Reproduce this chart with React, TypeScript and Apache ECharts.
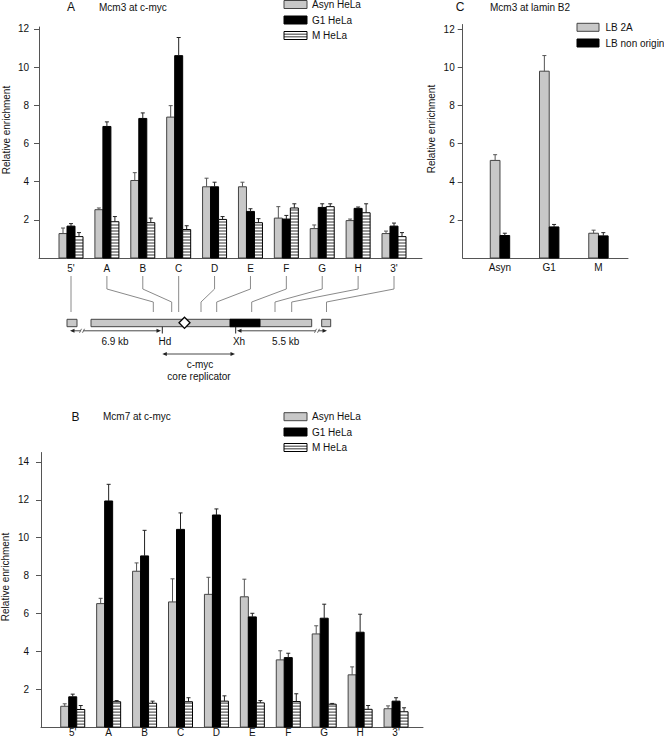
import React, { useEffect, useRef } from 'react';
import * as echarts from 'echarts';

// ---------- data ----------
const cats = ["5'", 'A', 'B', 'C', 'D', 'E', 'F', 'G', 'H', "3'"];
const helaNames = ['Asyn HeLa', 'G1 HeLa', 'M HeLa'];

// Panel A: Mcm3 at c-myc
const aAsyn = [1.28, 2.53, 4.06, 7.38, 3.73, 3.73, 2.09, 1.54, 1.96, 1.28];
const aAsynErr = [0.29, 0.09, 0.41, 0.6, 0.45, 0.24, 0.6, 0.19, 0.08, 0.13];
const aG1 = [1.67, 6.89, 7.31, 10.6, 3.73, 2.44, 2.04, 2.65, 2.6, 1.67];
const aG1Err = [0.13, 0.24, 0.29, 0.95, 0.24, 0.14, 0.19, 0.19, 0.07, 0.16];
const aM = [1.12, 1.9, 1.85, 1.49, 2.02, 1.85, 2.62, 2.69, 2.37, 1.12];
const aMErr = [0.21, 0.27, 0.24, 0.2, 0.15, 0.21, 0.22, 0.15, 0.47, 0.21];

// Panel B: Mcm7 at c-myc
const bAsyn = [1.1, 6.52, 8.23, 6.61, 7.01, 6.88, 3.55, 4.92, 2.76, 0.97];
const bAsynErr = [0.13, 0.28, 0.44, 1.22, 0.9, 0.93, 0.48, 0.43, 0.42, 0.15];
const bG1 = [1.6, 11.94, 9.04, 10.44, 11.2, 5.82, 3.67, 5.75, 5.01, 1.37];
const bG1Err = [0.14, 0.88, 1.35, 0.87, 0.32, 0.19, 0.23, 0.74, 0.95, 0.18];
const bM = [0.93, 1.34, 1.26, 1.34, 1.37, 1.28, 1.35, 1.21, 0.94, 0.81];
const bMErr = [0.21, 0.06, 0.11, 0.21, 0.28, 0.12, 0.41, 0.04, 0.2, 0.21];

// Panel C: Mcm3 at lamin B2
const cCats = ['Asyn', 'G1', 'M'];
const cNames = ['LB 2A', 'LB non origin'];
const cLB2A = [5.12, 9.8, 1.3];
const cLB2AErr = [0.3, 0.82, 0.16];
const cNon = [1.18, 1.63, 1.16];
const cNonErr = [0.12, 0.13, 0.17];

const ticksA = [2, 4, 6, 8, 10, 12];
const ticksB = [2, 4, 6, 8, 10, 12, 14];
const ticksC = [2, 4, 6, 8, 10, 12];

// ---------- layout / style ----------
const FONT = '"Liberation Sans", Arial, Helvetica, sans-serif';
const TXT = '#111';
const AXIS = '#555';
const GRAY = '#c8c8c8';

const gA = { left: 39, top: 27, width: 383, height: 231, xmin: -0.892, xmax: 9.78, ymax: 12.1 };
const gB = { left: 41, top: 452.5, width: 382, height: 274.6, xmin: -0.883, xmax: 9.75, ymax: 14.5 };
const gC = { left: 462.7, top: 24.5, width: 165.3, height: 233.5, xmin: -0.757, xmax: 2.6, ymax: 12.25 };

// schematic positions of each primer pair on the c-myc map (layout)
const mapX = [71, 153.3, 171.7, null, 201, 216.7, 251.7, 275, 291.7, 326.5];

type Kind = 'gray' | 'black' | 'stripe';

function barRenderer(offset: number, width: number, kind: Kind) {
  return (params: any, api: any) => {
    const i = api.value(0);
    const v = api.value(1);
    const e = api.value(2);
    const base = api.coord([i, 0]);
    const top = api.coord([i, v]);
    const et = api.coord([i, v + e]);
    const cx = base[0] + offset;
    const x0 = cx - width / 2;
    const h = base[1] - top[1];
    const fill = kind === 'gray' ? GRAY : kind === 'black' ? '#000' : '#fff';
    const stroke = kind === 'gray' ? '#444' : '#000';
    const children: any[] = [
      { type: 'rect', shape: { x: x0, y: top[1], width, height: h }, style: { fill, stroke, lineWidth: 1 } },
    ];
    if (kind === 'stripe') {
      for (let y = base[1] - 3; y > top[1] + 1; y -= 3) {
        children.push({ type: 'line', shape: { x1: x0, y1: y, x2: x0 + width, y2: y }, style: { stroke: '#000', lineWidth: 0.8 } });
      }
    }
    const ec = kind === 'gray' ? '#555' : '#222';
    children.push({ type: 'line', shape: { x1: cx, y1: top[1], x2: cx, y2: et[1] }, style: { stroke: ec, lineWidth: 1 } });
    children.push({ type: 'line', shape: { x1: cx - 2, y1: et[1], x2: cx + 2, y2: et[1] }, style: { stroke: ec, lineWidth: 1 } });
    return { type: 'group', children };
  };
}

function xAxisOf(gridIndex: number, g: any, labels: string[], margin: number, lineHeight = 12) {
  return {
    type: 'value', gridIndex, min: g.xmin, max: g.xmax,
    axisLine: { show: true, onZero: false, lineStyle: { color: AXIS, width: 1 } },
    axisTick: { show: false },
    splitLine: { show: false },
    axisLabel: {
      customValues: labels.map((_, i) => i),
      formatter: (v: number) => (Math.abs(v - Math.round(v)) < 1e-6 ? labels[Math.round(v)] ?? '' : ''),
      margin, fontSize: 10, lineHeight, color: TXT, fontFamily: FONT,
    },
  };
}

function yAxisOf(gridIndex: number, g: any, ticks: number[], margin: number) {
  return {
    type: 'value', gridIndex, min: 0, max: g.ymax,
    axisLine: { show: true, onZero: false, lineStyle: { color: AXIS, width: 1 } },
    axisTick: { show: true, inside: false, length: 5, customValues: ticks, lineStyle: { color: AXIS } },
    splitLine: { show: false },
    axisLabel: {
      customValues: ticks,
      formatter: (v: number) => (ticks.indexOf(v) >= 0 ? String(v) : ''),
      margin, fontSize: 10, color: TXT, fontFamily: FONT,
    },
  };
}

function customSeries(name: string, xi: number, vals: number[], errs: number[], offset: number, width: number, kind: Kind) {
  return {
    type: 'custom', name, xAxisIndex: xi, yAxisIndex: xi,
    data: vals.map((v, i) => [i, v, errs[i]]),
    encode: { x: 0, y: 1 },
    renderItem: barRenderer(offset, width, kind),
    silent: true,
  };
}

function txt(text: string, x: number, y: number, size = 10, align = 'left', extra: any = {}) {
  return {
    type: 'text', x, y, silent: true, ...extra,
    style: { text, fontSize: size, fontFamily: FONT, fill: TXT, align, verticalAlign: 'middle', textAlign: align, textVerticalAlign: 'middle' },
  };
}

function legendBox(x: number, yc: number, w: number, h: number, kind: Kind) {
  const y = yc - h / 2;
  const out: any[] = [];
  const fill = kind === 'gray' ? GRAY : kind === 'black' ? '#000' : '#fff';
  const stroke = kind === 'gray' ? '#444' : '#000';
  out.push({ type: 'rect', silent: true, shape: { x, y, width: w, height: h }, style: { fill, stroke, lineWidth: 1 } });
  if (kind === 'stripe') {
    out.push({ type: 'line', silent: true, shape: { x1: x, y1: y + h / 3, x2: x + w, y2: y + h / 3 }, style: { stroke: '#000', lineWidth: 0.8 } });
    out.push({ type: 'line', silent: true, shape: { x1: x, y1: y + (2 * h) / 3, x2: x + w, y2: y + (2 * h) / 3 }, style: { stroke: '#000', lineWidth: 0.8 } });
  }
  return out;
}

function line(x1: number, y1: number, x2: number, y2: number, stroke = '#222', lw = 1) {
  return { type: 'line', silent: true, shape: { x1, y1, x2, y2 }, style: { stroke, lineWidth: lw } };
}
function arrowHead(x: number, y: number, dir: number) {
  return { type: 'polygon', silent: true, shape: { points: [[x, y], [x - dir * 4.5, y - 2], [x - dir * 4.5, y + 2]] }, style: { fill: '#222' } };
}
function breakMark(x: number, y: number) {
  return [
    { type: 'rect', silent: true, shape: { x: x - 1.5, y: y - 1, width: 3, height: 2 }, style: { fill: '#fff' } },
    line(x - 2.5, y + 2, x - 0.5, y - 2, '#444', 0.8),
    line(x + 0.5, y + 2, x + 2.5, y - 2, '#444', 0.8),
  ];
}

function xPix(g: any, i: number) {
  return g.left + ((i - g.xmin) / (g.xmax - g.xmin)) * g.width;
}

function buildGraphic() {
  const els: any[] = [];
  // titles
  els.push(txt('A', 71, 7, 12, 'center'));
  els.push(txt('Mcm3 at c-myc', 99, 7, 10));
  els.push(txt('B', 75.5, 416.5, 12, 'center'));
  els.push(txt('Mcm7 at c-myc', 103, 416.5, 10));
  els.push(txt('C', 460, 7, 12, 'center'));
  els.push(txt('Mcm3 at lamin B2', 490, 7, 10));
  // y axis names
  els.push(txt('Relative enrichment', 6.5, 130, 10, 'center', { rotation: Math.PI / 2 }));
  els.push(txt('Relative enrichment', 5.5, 577, 10, 'center', { rotation: Math.PI / 2 }));
  els.push(txt('Relative enrichment', 431, 129, 10, 'center', { rotation: Math.PI / 2 }));
  // legends
  const kinds: Kind[] = ['gray', 'black', 'stripe'];
  const rowsA = [4.5, 20, 35.5];
  const rowsB = [416.7, 432, 447.5];
  helaNames.forEach((n, k) => {
    els.push(...legendBox(284, rowsA[k], 23, 8, kinds[k]));
    els.push(txt(n, 312, rowsA[k], 10));
    els.push(...legendBox(284, rowsB[k], 23, 8, kinds[k]));
    els.push(txt(n, 312, rowsB[k], 10));
  });
  const rowsC = [27.3, 43];
  cNames.forEach((n, k) => {
    els.push(...legendBox(577, rowsC[k], 22, 8, kinds[k]));
    els.push(txt(n, 605.5, rowsC[k], 10));
  });
  // connectors from category labels to map
  cats.forEach((_, i) => {
    const xt = xPix(gA, i);
    const xm = mapX[i];
    const pts = xm == null || Math.abs(xm - xt) < 1.5
      ? [[xt, 276], [xt, 312]]
      : [[xt, 276], [xt, 289], [xm, 302], [xm, 312]];
    els.push({ type: 'polyline', silent: true, shape: { points: pts }, style: { stroke: '#8a8a8a', lineWidth: 1, fill: null } });
  });
  // map
  const my = 319.3, mh = 7.4;
  els.push({ type: 'rect', silent: true, shape: { x: 67, y: my, width: 10, height: mh }, style: { fill: GRAY, stroke: '#444', lineWidth: 1 } });
  els.push({ type: 'rect', silent: true, shape: { x: 91, y: my, width: 220.7, height: mh }, style: { fill: GRAY, stroke: '#444', lineWidth: 1 } });
  els.push({ type: 'rect', silent: true, shape: { x: 230, y: my, width: 30, height: mh }, style: { fill: '#000', stroke: '#000', lineWidth: 1 } });
  els.push({ type: 'rect', silent: true, shape: { x: 321.7, y: my, width: 9, height: mh }, style: { fill: GRAY, stroke: '#444', lineWidth: 1 } });
  els.push({ type: 'polygon', silent: true, shape: { points: [[184.5, 317.2], [190, 322.8], [184.5, 328.4], [179, 322.8]] }, style: { fill: '#fff', stroke: '#000', lineWidth: 1.3 } });
  // Hd / Xh ticks
  els.push(line(162.3, 326.7, 162.3, 333.5));
  els.push(line(235.7, 326.7, 235.7, 333.5));
  // dimension lines
  const dy = 330.8;
  els.push(line(72, dy, 159, dy, '#333', 0.9));
  els.push(arrowHead(70, dy, -1), arrowHead(161, dy, 1));
  els.push(...breakMark(82, dy));
  els.push(line(239, dy, 325, dy, '#333', 0.9));
  els.push(arrowHead(237, dy, -1), arrowHead(327, dy, 1));
  els.push(...breakMark(317, dy));
  const cy = 354;
  els.push(line(164, cy, 233, cy, '#333', 0.9));
  els.push(arrowHead(162.3, cy, -1), arrowHead(235, cy, 1));
  // texts
  els.push(txt('6.9 kb', 115, 341.5, 10, 'center'));
  els.push(txt('Hd', 165, 341.8, 10, 'center'));
  els.push(txt('Xh', 239, 341.8, 10, 'center'));
  els.push(txt('5.5 kb', 285.7, 341.5, 10, 'center'));
  els.push(txt('c-myc', 200, 364, 10, 'center'));
  els.push(txt('core replicator', 199, 376.7, 10, 'center'));
  return els;
}

export default function App() {
  const ref = useRef<HTMLDivElement>(null);
  useEffect(() => {
    if (!ref.current) return;
    const chart = echarts.init(ref.current, undefined, { renderer: 'svg' });
    const grid = [gA, gB, gC].map((g) => ({
      left: g.left, top: g.top, width: g.width, height: g.height,
      containLabel: false, outerBoundsMode: 'none',
    }));
    const option: any = {
      animation: false,
      backgroundColor: '#fff',
      textStyle: { fontFamily: FONT },
      grid,
      xAxis: [
        xAxisOf(0, gA, cats, 4),
        xAxisOf(1, gB, cats, 1, 9),
        xAxisOf(2, gC, cCats, 3),
      ],
      yAxis: [
        yAxisOf(0, gA, ticksA, 10),
        yAxisOf(1, gB, ticksB, 12),
        yAxisOf(2, gC, ticksC, 8),
      ],
      series: [
        customSeries(helaNames[0], 0, aAsyn, aAsynErr, -8, 8, 'gray'),
        customSeries(helaNames[1], 0, aG1, aG1Err, 0, 8, 'black'),
        customSeries(helaNames[2], 0, aM, aMErr, 8, 8, 'stripe'),
        customSeries(helaNames[0], 1, bAsyn, bAsynErr, -8, 8, 'gray'),
        customSeries(helaNames[1], 1, bG1, bG1Err, 0, 8, 'black'),
        customSeries(helaNames[2], 1, bM, bMErr, 8, 8, 'stripe'),
        customSeries(cNames[0], 2, cLB2A, cLB2AErr, -4.85, 9.7, 'gray'),
        customSeries(cNames[1], 2, cNon, cNonErr, 4.85, 9.7, 'black'),
      ],
      graphic: buildGraphic(),
    };
    chart.setOption(option);
    return () => chart.dispose();
  }, []);
  return <div ref={ref} style={{ position: 'absolute', left: 0, top: 0, width: 664, height: 739, background: '#fff' }} />;
}
